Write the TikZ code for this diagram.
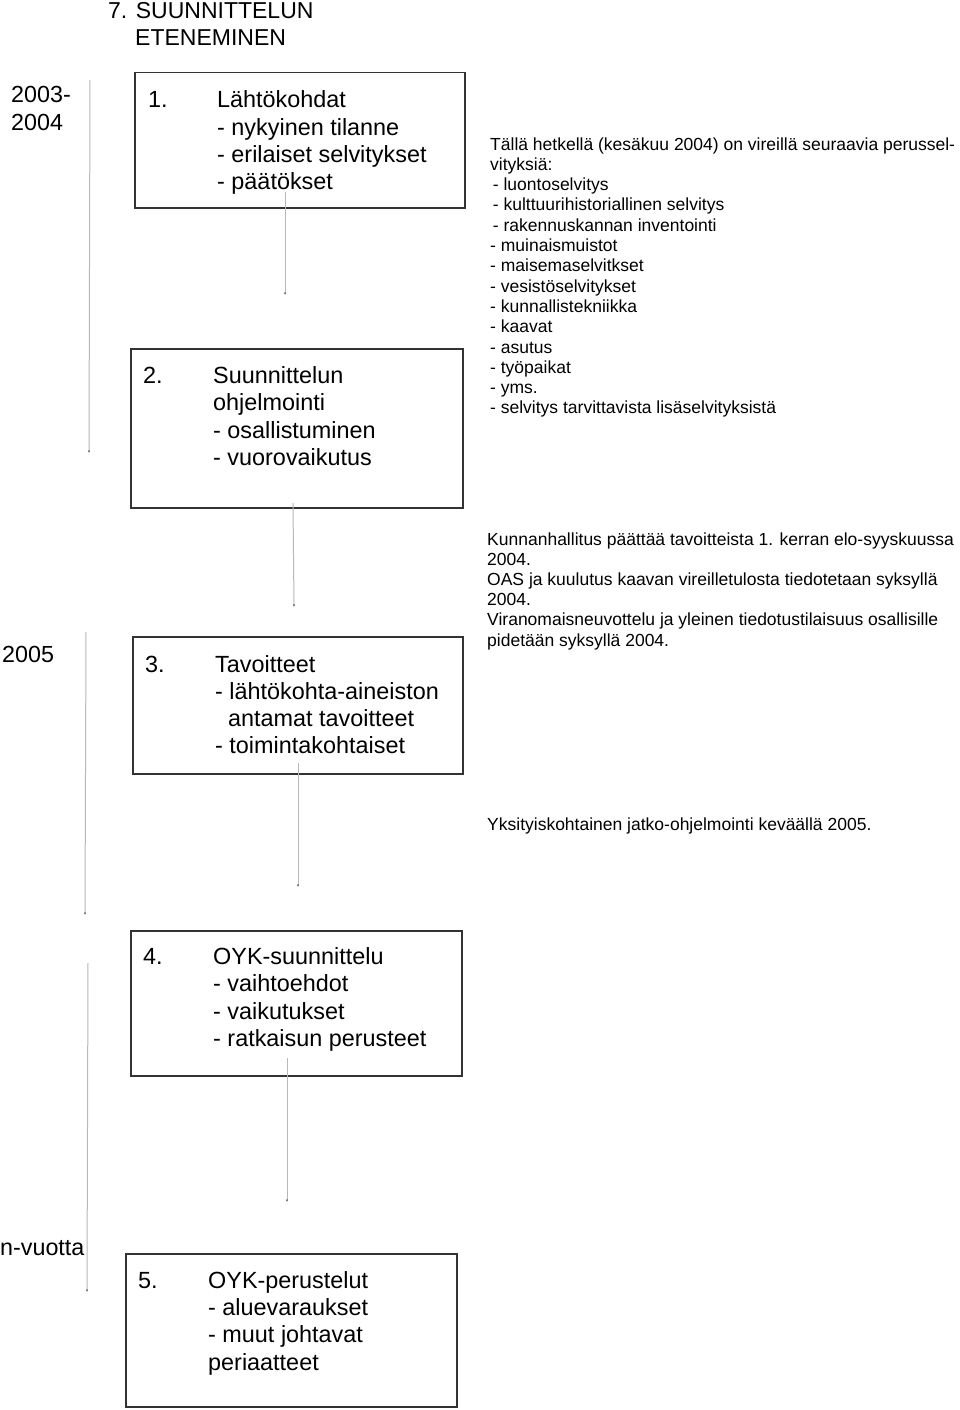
\documentclass[tikz,border=0pt]{standalone}
\usepackage{fontspec}
\setmainfont{Liberation Sans}
\usetikzlibrary{arrows.meta}
\definecolor{boxline}{HTML}{333333}
\definecolor{thinline}{HTML}{B8B8B8}
\begin{document}
\begin{tikzpicture}[x=1pt,y=-1pt,
  box/.style={draw=boxline, line width=1.5pt, rectangle, anchor=north west, inner sep=0pt},
  bigtxt/.style={anchor=base west, inner sep=0pt, font=\fontsize{23.4}{27}\selectfont},
  yeartxt/.style={anchor=base west, inner sep=0pt, font=\fontsize{23.3}{27}\selectfont},
  titletxt/.style={anchor=base west, inner sep=0pt, font=\fontsize{23}{27}\selectfont},
  smalltxt/.style={anchor=base west, inner sep=0pt, font=\fontsize{17.5}{20}\selectfont},
  flow/.style={draw=thinline, line width=1pt, -{Latex[length=2.5pt,width=2pt,color=black!75]}}
]
\useasboundingbox (0,0) rectangle (960,1410);
\fill[white] (0,0) rectangle (960,1410);

% title
\node[titletxt] (t1) at (108,19) {7. SUUNNITTELUN};
\node[titletxt] (t2) at (135,46) {ETENEMINEN};

% years
\node[yeartxt] (y1) at (11,103) {2003-};
\node[yeartxt] (y2) at (11,131) {2004};
\node[yeartxt] (y3) at (2,662) {2005};
\node[yeartxt] (y4) at (0,1255) {n-vuotta};

% boxes
\node[box, minimum width=330pt, minimum height=135pt] (b1) at (134,72) {};
\node[box, minimum width=332pt, minimum height=159pt] (b2) at (130,348) {};
\node[box, minimum width=330pt, minimum height=137pt] (b3) at (132,636) {};
\node[box, minimum width=331pt, minimum height=145pt] (b4) at (130,930) {};
\node[box, minimum width=331pt, minimum height=153pt] (b5) at (125,1253) {};

% box texts
\node[bigtxt] (n1) at (148,108) {1.};
\foreach \t [count=\i from 0] in {Lähtökohdat,- nykyinen tilanne,- erilaiset selvitykset,- päätökset}
  \node[bigtxt] (b1t\i) at (217,108+27.3*\i) {\t};

\node[bigtxt] (n2) at (143,383) {2.};
\foreach \t [count=\i from 0] in {Suunnittelun,ohjelmointi,- osallistuminen,- vuorovaikutus}
  \node[bigtxt] (b2t\i) at (213,383+27.5*\i) {\t};

\node[bigtxt] (n3) at (145,672) {3.};
\node[bigtxt] (b3t0) at (215,672) {Tavoitteet};
\node[bigtxt] (b3t1) at (215,699) {- lähtökohta-aineiston};
\node[bigtxt] (b3t2) at (228,726.5) {antamat tavoitteet};
\node[bigtxt] (b3t3) at (215,753.5) {- toimintakohtaiset};

\node[bigtxt] (n4) at (143,964) {4.};
\foreach \t [count=\i from 0] in {OYK-suunnittelu,- vaihtoehdot,- vaikutukset,- ratkaisun perusteet}
  \node[bigtxt] (b4t\i) at (213,964+27.5*\i) {\t};

\node[bigtxt] (n5) at (138,1288) {5.};
\foreach \t [count=\i from 0] in {OYK-perustelut,- aluevaraukset,- muut johtavat,periaatteet}
  \node[bigtxt] (b5t\i) at (208,1288+27.4*\i) {\t};

% right text block 1
\node[smalltxt] (r0) at (490,150) {Tällä hetkellä (kesäkuu 2004) on vireillä seuraavia perussel-};
\node[smalltxt] (r1) at (490,170.3) {vityksiä:};
\foreach \t [count=\i from 2] in {- luontoselvitys,- kulttuurihistoriallinen selvitys,- rakennuskannan inventointi}
  \node[smalltxt] (r\i) at (492.7,150+20.3*\i) {\t};
\foreach \t [count=\i from 5] in {- muinaismuistot,- maisemaselvitkset,- vesistöselvitykset,- kunnallistekniikka,- kaavat,- asutus,- työpaikat,- yms.,- selvitys tarvittavista lisäselvityksistä}
  \node[smalltxt] (r\i) at (490,150+20.3*\i) {\t};

% right text block 2
\foreach \t [count=\i from 0] in {Kunnanhallitus päättää tavoitteista 1. kerran elo-syyskuussa,2004.,OAS ja kuulutus kaavan vireilletulosta tiedotetaan syksyllä,2004.,Viranomaisneuvottelu ja yleinen tiedotustilaisuus osallisille,pidetään syksyllä 2004.}
  \node[smalltxt] (s\i) at (487,545+20.2*\i) {\t};

% right text block 3
\node[smalltxt] (u0) at (487,830) {Yksityiskohtainen jatko-ohjelmointi keväällä 2005.};

% connector coordinates
\coordinate (l1a) at (90,80);   \coordinate (l1b) at (89,453);
\coordinate (l2a) at (86,632);  \coordinate (l2b) at (85,915);
\coordinate (l3a) at (88,963);  \coordinate (l3b) at (87,1292);
\coordinate (c1a) at (285,192); \coordinate (c1b) at (285,295);
\coordinate (c2a) at (293,503); \coordinate (c2b) at (294,607);
\coordinate (c3a) at (298,763); \coordinate (c3b) at (298,887);
\coordinate (c4a) at (287,1058);\coordinate (c4b) at (287,1202);

\draw[flow] (l1a) -- (l1b);
\draw[flow] (l2a) -- (l2b);
\draw[flow] (l3a) -- (l3b);
\draw[flow] (c1a) -- (c1b);
\draw[flow] (c2a) -- (c2b);
\draw[flow] (c3a) -- (c3b);
\draw[flow] (c4a) -- (c4b);
\end{tikzpicture}
\end{document}
